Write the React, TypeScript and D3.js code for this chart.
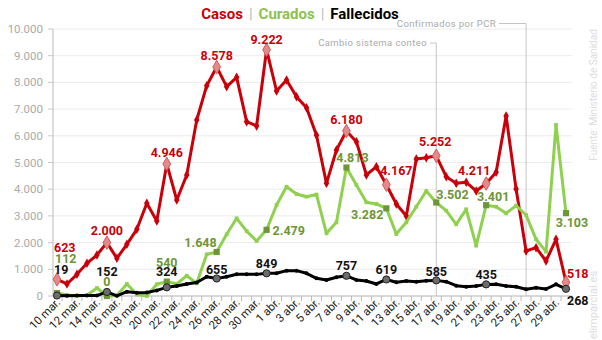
import React, { useEffect } from 'react';
import * as d3 from 'd3';

const days = [
  '10 mar.', '11 mar.', '12 mar.', '13 mar.', '14 mar.', '15 mar.', '16 mar.', '17 mar.', '18 mar.', '19 mar.',
  '20 mar.', '21 mar.', '22 mar.', '23 mar.', '24 mar.', '25 mar.', '26 mar.', '27 mar.', '28 mar.', '29 mar.',
  '30 mar.', '31 mar.', '1 abr.', '2 abr.', '3 abr.', '4 abr.', '5 abr.', '6 abr.', '7 abr.', '8 abr.',
  '9 abr.', '10 abr.', '11 abr.', '12 abr.', '13 abr.', '14 abr.', '15 abr.', '16 abr.', '17 abr.', '18 abr.',
  '19 abr.', '20 abr.', '21 abr.', '22 abr.', '23 abr.', '24 abr.', '25 abr.', '26 abr.', '27 abr.', '28 abr.',
  '29 abr.', '30 abr.',
];

const casos = [
  623, 450, 812, 1225, 1535, 2000, 1412, 1936, 2498, 3471,
  2809, 4946, 3596, 4532, 6592, 7877, 8578, 7840, 8190, 6530,
  6367, 9222, 7678, 8090, 7465, 7053, 6023, 4220, 5468, 6180,
  5780, 4532, 4843, 4167, 3446, 2996, 5131, 5181, 5252, 4470,
  4220, 4257, 3933, 4211, 4632, 6742, 4007, 1685, 1810, 1311,
  2123, 518,
];

const curados = [
  112, 40, 0, 30, 300, 0, 20, 450, 60, 0,
  440, 540, 450, 760, 475, 1560, 1648, 2310, 2910, 2430,
  2060, 2479, 3408, 4094, 3820, 3720, 3800, 2348, 2760, 4813,
  4157, 3509, 3446, 3282, 2322, 2760, 3345, 3933, 3502, 3196,
  2685, 3246, 1885, 3401, 3345, 3096, 3383, 3034, 2123, 1660,
  6404, 3103,
];

const fallecidos = [
  19, 10, 20, 20, 15, 152, 5, 160, 124, 130,
  210, 324, 375, 450, 505, 723, 655, 723, 812, 812,
  810, 849, 850, 950, 950, 850, 663, 600, 700, 757,
  600, 560, 450, 619, 513, 562, 536, 573, 585, 536,
  386, 348, 375, 435, 438, 375, 348, 250, 311, 262,
  438, 268,
];

const labeled = [0, 5, 11, 16, 21, 29, 33, 38, 43, 51];
const yTicks = [0, 1000, 2000, 3000, 4000, 5000, 6000, 7000, 8000, 9000, 10000];

const W = 602;
const H = 340;
const FONT = 'Roboto, "Open Sans", sans-serif';

const locale = d3.formatLocale({ decimal: ',', thousands: '.', grouping: [3], currency: ['', ' €'] });
const fmt = locale.format(',d');

// label placement per series at the labeled indices: [dx, dy, anchor]
type Place = [number, number, 'start' | 'middle' | 'end'];
const casosPlace: Record<number, Place> = {
  0: [-3, -27, 'start'], 5: [0, -8, 'middle'], 11: [0, -7, 'middle'], 16: [0, -7, 'middle'],
  21: [0, -6, 'middle'], 29: [0, -7, 'middle'], 33: [10, -10, 'middle'], 38: [-1, -10, 'middle'],
  43: [-12, -9, 'middle'], 51: [1, -4, 'start'],
};
const curadosPlace: Record<number, Place> = {
  0: [-2, -30, 'start'], 5: [0, -10, 'middle'], 11: [0, -15, 'middle'], 16: [0, -5, 'end'],
  21: [6, 5, 'start'], 29: [6, -5, 'middle'], 33: [-3, 11, 'end'], 38: [0, -3, 'start'],
  43: [7, -4, 'middle'], 51: [6, 14, 'middle'],
};
const fallecidosPlace: Record<number, Place> = {
  0: [-3, -21, 'start'], 5: [0, -16, 'middle'], 11: [0, -11, 'middle'], 16: [0, -5, 'middle'],
  21: [0, -5, 'middle'], 29: [0, -6, 'middle'], 33: [0, -5, 'middle'], 38: [0, -4, 'middle'],
  43: [0, -5, 'middle'], 51: [1, 16, 'start'],
};

const RED = '#c8000a';
const GREEN = '#8fd14f';
const GREEN_DARK = '#6e9536';

const App = () => {
  useEffect(() => {
    document.body.style.margin = '0';
  }, []);

  const x = d3.scalePoint<number>().domain(days.map((_, i) => i)).range([57, 566]);
  const y = d3.scaleLinear().domain([0, 10000]).range([296, 29]);

  const line = d3.line<number>().x((_, i) => x(i) as number).y(d => y(d));
  const diamond = d3.symbol(d3.symbolDiamond, 26)();
  const bigDiamond = d3.symbol(d3.symbolDiamond, 52)();
  const square = d3.symbol(d3.symbolSquare, 14)();
  const bigSquare = d3.symbol(d3.symbolSquare, 38)();

  const xPCR = x(47) as number;
  const xCambio = x(38) as number;

  const labelText = (vals: number[], place: Record<number, Place>, color: string) =>
    labeled.map(i => {
      const [dx, dy, anchor] = place[i];
      return (
        <text key={i} x={(x(i) as number) + dx} y={y(vals[i]) + dy} textAnchor={anchor}
          fill={color} fontSize={12.5} fontWeight="bold" fontFamily={FONT}>
          {fmt(vals[i])}
        </text>
      );
    });

  return (
    <div style={{ position: 'absolute', left: 0, top: 0 }}>
      <svg width={W} height={H} style={{ display: 'block', background: '#fff' }}>
        {/* grid */}
        {yTicks.map(t => (
          <g key={t}>
            <line x1={53} x2={572} y1={y(t)} y2={y(t)} stroke="#ececec" strokeWidth={1} />
            <line x1={48} x2={53} y1={y(t)} y2={y(t)} stroke="#c8c8c8" />
            <text x={43} y={y(t) + 4} textAnchor="end" fill="#aaa" fontSize={11.5} fontFamily={FONT}>
              {fmt(t)}
            </text>
          </g>
        ))}
        <line x1={53} x2={53} y1={29} y2={296} stroke="#bbb" />
        <line x1={53} x2={572} y1={296} y2={296} stroke="#bbb" />
        {days.map((_, i) => (
          <line key={i} x1={(x(i) as number) + 5} x2={(x(i) as number) + 5} y1={296} y2={301} stroke="#bbb" />
        ))}
        {days.map((d, i) =>
          i % 2 === 0 ? (
            <text key={d} transform={`translate(${(x(i) as number) + 4},${303}) rotate(-45)`}
              textAnchor="end" fill="#222" fontSize={11.5} fontFamily={FONT}>
              {d}
            </text>
          ) : null
        )}

        {/* reference lines */}
        <path d={`M${xCambio},296V43H430`} fill="none" stroke="#c4c4c4" />
        <text x={427} y={46} textAnchor="end" fill="#aaa" fontSize={9.5} fontFamily={FONT} letterSpacing={0.4}>
          Cambio sistema conteo
        </text>
        <path d={`M${xPCR},296V23.5H499`} fill="none" stroke="#c4c4c4" />
        <text x={496} y={27} textAnchor="end" fill="#aaa" fontSize={9.5} fontFamily={FONT} letterSpacing={0.4}>
          Confirmados por PCR
        </text>

        {/* series */}
        <path d={line(casos) || ''} fill="none" stroke={RED} strokeWidth={3} strokeLinejoin="round" />
        {casos.map((v, i) => (
          <path key={i} d={diamond} transform={`translate(${x(i)},${y(v)})`} fill={RED} />
        ))}
        <path d={line(curados) || ''} fill="none" stroke={GREEN} strokeWidth={3} strokeLinejoin="round" />
        {curados.map((v, i) => (
          <path key={i} d={square} transform={`translate(${x(i)},${y(v)})`} fill={GREEN} />
        ))}
        <path d={line(fallecidos) || ''} fill="none" stroke="#000" strokeWidth={3} strokeLinejoin="round" />
        {fallecidos.map((v, i) => (
          <circle key={i} cx={x(i)} cy={y(v)} r={2} fill="#000" />
        ))}

        {/* highlighted points */}
        {labeled.map(i => (
          <path key={`c${i}`} d={bigDiamond} transform={`translate(${x(i)},${y(casos[i])})`}
            fill="#e38a8a" stroke="#cf5a5a" strokeWidth={1} />
        ))}
        {labeled.map(i => (
          <path key={`g${i}`} d={bigSquare} transform={`translate(${x(i)},${y(curados[i])})`}
            fill={GREEN_DARK} />
        ))}
        {labeled.map(i => (
          <circle key={`f${i}`} cx={x(i)} cy={y(fallecidos[i])} r={3.6} fill="#6c6c6c" stroke="#222" strokeWidth={1} />
        ))}

        {/* value labels */}
        {labelText(casos, casosPlace, RED)}
        {labelText(curados, curadosPlace, GREEN_DARK)}
        {labelText(fallecidos, fallecidosPlace, '#111')}

        {/* title */}
        <text x={300} y={19} textAnchor="middle" fontSize={15} fontWeight="bold" fontFamily={FONT}>
          <tspan fill={RED}>Casos</tspan>
          <tspan fill="#bbb" fontWeight="normal" dx={6}>|</tspan>
          <tspan fill="#8cc152" dx={6}>Curados</tspan>
          <tspan fill="#bbb" fontWeight="normal" dx={6}>|</tspan>
          <tspan fill="#000" dx={6}>Fallecidos</tspan>
        </text>

        {/* source */}
        <text transform="translate(597,95) rotate(-90)" textAnchor="middle" fill="#ddd" fontSize={10} fontFamily={FONT}>
          Fuente: Ministerio de Sanidad
        </text>
        <text transform="translate(597,305) rotate(-90)" textAnchor="middle" fill="#ddd" fontSize={11} fontFamily={FONT}>
          elimparcial.es
        </text>
      </svg>
    </div>
  );
};

export default App;
